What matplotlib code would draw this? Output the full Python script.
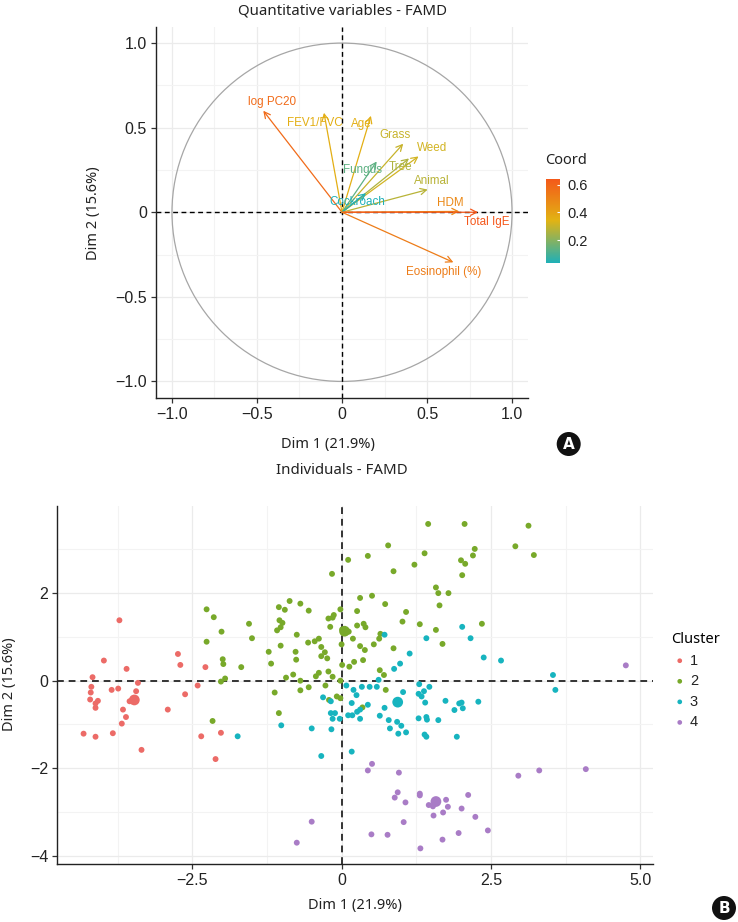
import numpy as np
import matplotlib
matplotlib.use("Agg")
import matplotlib.pyplot as plt
from matplotlib.colors import LinearSegmentedColormap, Normalize
from matplotlib.patches import Circle, Ellipse
from matplotlib.ticker import MultipleLocator

# ---------------- data: panel A (variables) ----------------
var_names = ["log PC20", "FEV1/FVC", "Age", "Grass", "Weed", "Tree", "Fungus",
             "Animal", "Cockroach", "HDM", "Total IgE", "Eosinophil (%)"]
var_dim1 = [-0.463, -0.106, 0.170, 0.360, 0.450, 0.394, 0.204, 0.504, 0.141, 0.690, 0.800, 0.655]
var_dim2 = [0.600, 0.588, 0.570, 0.405, 0.330, 0.318, 0.300, 0.134, 0.112, 0.005, 0.000, -0.296]
# label offsets from arrow tip (layout only)
lab_dx = [0.05, -0.054, -0.055, -0.05, 0.08, -0.049, -0.084, 0.026, -0.05, -0.05, 0.05, -0.055]
lab_dy = [0.05, -0.058, -0.05, 0.05, 0.047, -0.052, -0.05, 0.049, -0.052, 0.05, -0.055, -0.057]

# ---------------- data: panel B (individuals) ----------------
c1_x = [-3.72, -3.98, -3.60, -4.17, -4.19, -4.20, -4.21, -4.08, -4.12, -4.12, -3.85, -3.74,
        -3.41, -3.44, -3.55, -3.50, -3.66, -3.61, -3.68, -4.32, -4.12, -3.83, -3.35, -2.74,
        -2.70, -2.62, -2.91, -2.41, -2.28, -2.35, -2.02, -2.11]
c1_y = [1.38, 0.46, 0.27, 0.08, -0.14, -0.27, -0.43, -0.46, -0.52, -0.62, -0.21, -0.18,
        -0.05, -0.24, -0.47, -0.43, -0.66, -0.83, -0.98, -1.21, -1.28, -1.20, -1.58, 0.61,
        0.36, -0.31, -0.66, -0.11, 0.31, -1.27, -1.19, -1.79]

c2_x = [-2.26, -2.14, -2.01, -2.26, -1.99, -1.98, -1.95, -2.02, -2.16,
        1.45, 2.06, 0.78, 0.44, 0.11, -0.16, 0.87, 1.39, 1.22, 2.23, 2.20, 2.00, 2.07, 2.02,
        1.58, 1.62, 1.79, 1.64, 1.08, 0.73, 0.51, 0.31, 0.26, -0.02, 1.02, 1.31, 1.58, 2.35,
        1.69, 0.87, 0.65, 0.63, 0.54, 0.39, 0.31, 0.36, 0.21, 0.13, 0.01, 0.19, 0.26, 0.37,
        0.40, 0.01, 0.12, 0.00, 0.64, 0.71, 0.74, 0.35, -0.15, -0.02, -0.08, -0.02, -0.21,
        -0.27, -0.22, -0.38, -0.43, -0.55, -0.69, -0.69, -0.81, -0.93, -1.12, -1.05, -1.68,
        -1.50, -1.55, -1.18, -1.22, -1.02, -1.08, -1.02, -0.99, -1.04, -1.05, -0.95, -0.87,
        -0.69, -0.55, -0.75, -0.77, -0.76, -0.56, -0.45, -0.38, -0.34, -0.28, -0.34, -0.24,
        -0.19, -0.22, -0.15, -0.13, 3.13, 2.91, 3.22]
c2_y = [1.63, 1.45, 1.12, 0.89, 0.49, 0.38, 0.05, -0.02, -0.92,
        3.58, 3.58, 3.09, 2.85, 2.76, 2.44, 2.50, 2.91, 2.65, 3.01, 2.86, 2.75, 2.67, 2.41,
        2.13, 2.00, 2.00, 1.72, 1.57, 1.75, 1.94, 1.89, 1.59, 1.63, 1.35, 1.29, 1.16, 1.30,
        0.84, 0.74, 1.07, 0.96, 0.83, 0.70, 0.79, 0.47, 0.43, 0.32, 0.36, 0.96, 1.26, 1.30,
        1.22, 1.17, 1.12, 0.83, 0.24, 0.13, -0.21, -0.61, 0.09, 0.00, -0.36, -0.40, -0.44,
        -0.11, 0.21, 0.18, 0.10, -0.15, 0.00, -0.22, 0.14, 0.07, -0.27, -0.74, 0.31,
        0.97, 1.30, 0.39, 0.66, 0.80, 1.15, 1.22, 1.32, 1.38, 1.68, 1.62, 1.82,
        1.76, 1.60, 1.05, 0.66, 0.48, 0.87, 0.90, 0.96, 0.77, 0.65, 0.56, 0.51,
        1.23, 1.42, 1.44, 1.50, 3.54, 3.07, 2.87]

c3_x = [2.02, 2.16, 1.42, 0.72, 1.14, 0.98, 0.88, 2.38, 2.67, 0.62, 0.59, 0.08, 0.20, 0.34,
        0.47, 0.25, 0.44, 0.17, 0.31, 0.26, 0.18, 0.11, 0.31, -0.03, -0.11, -0.18, -0.15,
        -0.17, -0.31, -0.18, -0.50, -1.01, -1.74, -0.34, 0.17, 1.03, 1.30, 1.29, 1.34, 1.38,
        1.47, 1.40, 1.74, 1.97, 2.01, 1.89, 2.03, 2.29, 0.72, 0.64, 0.79, 0.93, 1.00, 0.81,
        0.95, 1.08, 1.29, 1.42, 1.43, 1.62, 1.39, 1.42, 1.93, 3.54, 3.58]
c3_y = [1.23, 0.97, 0.97, 1.05, 0.62, 0.39, 0.27, 0.53, 0.46, 0.02, -0.14, -0.11, -0.21, -0.14,
        -0.14, -0.33, -0.55, -0.51, -0.66, -0.71, -0.79, -0.79, -0.87, -0.87, -0.74, -0.74, -0.87,
        -1.11, -0.38, -0.47, -1.09, -1.02, -1.27, -1.72, -1.62, -0.26, -0.08, -0.30, -0.36, -0.24,
        -0.14, -0.50, -0.46, -0.52, -0.50, -0.67, -0.63, -0.48, -0.62, -0.80, -0.90, -0.94, -1.03, -1.09,
        -1.21, -1.18, -0.86, -0.83, -0.89, -0.90, -1.23, -1.28, -1.28, 0.13, -0.21]

c4_x = [0.51, 0.44, 0.96, 2.96, 3.31, 4.09, 0.94, 0.89, 1.07, 1.31, 1.31, 1.46, 1.53, 1.75,
        1.78, 2.12, 2.01, 1.70, 1.54, 2.24, 1.04, 0.50, 0.77, 1.69, 1.96, 2.45, 1.32, -0.50,
        -0.75, 4.76]
c4_y = [-1.90, -2.05, -2.10, -2.17, -2.05, -2.02, -2.55, -2.67, -2.78, -2.58, -2.62, -2.84,
        -2.87, -2.72, -2.88, -2.61, -2.92, -3.01, -3.08, -3.11, -3.23, -3.51, -3.52, -3.63,
        -3.48, -3.42, -3.83, -3.22, -3.70, 0.35]

cluster_labels = ["1", "2", "3", "4"]
centroid_x = [-3.47, 0.05, 0.94, 1.58]
centroid_y = [-0.44, 1.13, -0.49, -2.76]
cluster_colors = ["#EC6B67", "#78A92A", "#17B4BF", "#A97CC6"]

# ---------------- figure ----------------
W, H = 738, 922
fig = plt.figure(figsize=(W / 100, H / 100), dpi=100)
fig.patch.set_facecolor("white")

TICKFONT = "Liberation Sans"
LABFONT = "Noto Sans"
GRID_MAJ = "#EBEBEB"
GRID_MIN = "#F3F3F3"


def fx(px):
    return px / W


def fy(py):
    return 1 - py / H


def style_axes(ax):
    for s in ["top", "right"]:
        ax.spines[s].set_visible(False)
    for s in ["left", "bottom"]:
        ax.spines[s].set_color("#222222")
        ax.spines[s].set_linewidth(1.0)
    ax.tick_params(axis="both", which="major", direction="out", length=3.5, width=0.9,
                   color="#333333", labelcolor="#222222", labelsize=11.5, pad=3)
    ax.tick_params(axis="both", which="minor", length=0)
    for lab in ax.get_xticklabels() + ax.get_yticklabels():
        lab.set_fontfamily(TICKFONT)
    ax.grid(True, which="major", color=GRID_MAJ, lw=0.9, zorder=0)
    ax.grid(True, which="minor", color=GRID_MIN, lw=0.8, zorder=0)
    ax.set_axisbelow(True)


# ---------------- Panel A ----------------
axA = fig.add_axes([fx(156), fy(398), fx(528) - fx(156), fy(27) - fy(398)])
axA.set_xlim(-1.094, 1.094)
axA.set_ylim(-1.098, 1.095)
axA.xaxis.set_major_locator(MultipleLocator(0.5))
axA.yaxis.set_major_locator(MultipleLocator(0.5))
axA.xaxis.set_minor_locator(MultipleLocator(0.25))
axA.yaxis.set_minor_locator(MultipleLocator(0.25))
fmtA = lambda v, p: "0" if abs(v) < 1e-9 else ("%.1f" % v).replace("-", "\u2212")
axA.xaxis.set_major_formatter(plt.FuncFormatter(fmtA))
axA.yaxis.set_major_formatter(plt.FuncFormatter(fmtA))
style_axes(axA)

axA.add_patch(Circle((0, 0), 1, fill=False, ec="#A6A6A6", lw=0.9, zorder=1))
axA.axhline(0, color="black", lw=1.0, ls=(0, (3.5, 2.5)), zorder=2)
axA.axvline(0, color="black", lw=1.0, ls=(0, (3.5, 2.5)), zorder=2)

cmap = LinearSegmentedColormap.from_list("coord", ["#1FB0B8", "#E2B414", "#F5571A"])
coord = np.array(var_dim1) ** 2 + np.array(var_dim2) ** 2
norm = Normalize(vmin=coord.min(), vmax=coord.max())

for name, x, y, dx, dy, c in zip(var_names, var_dim1, var_dim2, lab_dx, lab_dy, coord):
    col = cmap(norm(c))
    axA.annotate("", xy=(x, y), xytext=(0, 0),
                 arrowprops=dict(arrowstyle="->,head_length=0.55,head_width=0.28",
                                 color=col, lw=0.9, shrinkA=0, shrinkB=0,
                                 mutation_scale=8), zorder=3)
    axA.text(x + dx, y + dy, name, color=col, fontsize=8.4, family=TICKFONT,
             ha="center", va="center", zorder=4)

# colorbar
cax = fig.add_axes([fx(546), fy(263.3), fx(560) - fx(546), fy(179) - fy(263.3)])
grad = np.linspace(norm.vmin, norm.vmax, 256).reshape(-1, 1)
cax.imshow(grad, aspect="auto", cmap=cmap, norm=norm, origin="lower",
           extent=[0, 1, norm.vmin, norm.vmax])
cax.set_xticks([])
cax.yaxis.tick_right()
cax.set_yticks([0.2, 0.4, 0.6])
cax.set_yticklabels(["0.2", "0.4", "0.6"])
cax.tick_params(axis="y", direction="in", length=2.5, width=0.8, color="white",
                labelsize=10.5, labelcolor="#222222", pad=5)
for lab in cax.get_yticklabels():
    lab.set_fontfamily(TICKFONT)
for s in cax.spines.values():
    s.set_visible(False)
fig.text(fx(545), fy(160), "Coord", fontsize=10.5, family=LABFONT, color="#222222",
         ha="left", va="center")

fig.text(fx(342), fy(11), "Quantitative variables - FAMD", fontsize=10.8, family=LABFONT,
         color="#222222", ha="center", va="center")
fig.text(fx(328), fy(444), "Dim 1 (21.9%)", fontsize=10.5, family=LABFONT,
         color="#222222", ha="center", va="center")
fig.text(fx(93), fy(213), "Dim 2 (15.6%)", fontsize=10.5, family=LABFONT,
         color="#222222", ha="center", va="center", rotation=90)

# ---------------- Panel B ----------------
axB = fig.add_axes([fx(57.3), fy(863.7), fx(653.3) - fx(57.3), fy(506) - fy(863.7)])
axB.set_xlim(-4.76, 5.22)
axB.set_ylim(-4.18, 3.99)
axB.xaxis.set_major_locator(MultipleLocator(2.5))
axB.xaxis.set_minor_locator(MultipleLocator(1.25))
axB.yaxis.set_major_locator(MultipleLocator(2))
axB.yaxis.set_minor_locator(MultipleLocator(1))
fmtBx = lambda v, p: "0" if abs(v) < 1e-9 else ("%.1f" % v).replace("-", "\u2212")
fmtBy = lambda v, p: ("%d" % round(v)).replace("-", "\u2212")
axB.xaxis.set_major_formatter(plt.FuncFormatter(fmtBx))
axB.yaxis.set_major_formatter(plt.FuncFormatter(fmtBy))
style_axes(axB)

axB.axhline(0, color="#333333", lw=1.4, ls=(0, (3.5, 2.5)), zorder=2)
axB.axvline(0, color="#333333", lw=1.4, ls=(0, (3.5, 2.5)), zorder=2)

clusters_x = [c1_x, c2_x, c3_x, c4_x]
clusters_y = [c1_y, c2_y, c3_y, c4_y]
for xs, ys, col, lab in zip(clusters_x, clusters_y, cluster_colors, cluster_labels):
    axB.scatter(xs, ys, s=18, color=col, edgecolors="none", zorder=3, label=lab)
for cx, cy, col in zip(centroid_x, centroid_y, cluster_colors):
    axB.scatter([cx], [cy], s=60, color=col, edgecolors="none", zorder=4)

leg = axB.legend(title="Cluster", loc="upper left", bbox_to_anchor=(fx(671), fy(632)),
                 bbox_transform=fig.transFigure, frameon=False, fontsize=10.5,
                 title_fontsize=10.5, handletextpad=0.1, labelspacing=0.45,
                 borderpad=0, borderaxespad=0, handlelength=1.2, markerscale=0.8)
leg.get_title().set_fontfamily(LABFONT)
leg._legend_box.align = "left"
for t in leg.get_texts():
    t.set_fontfamily(TICKFONT)
    t.set_color("#222222")

fig.text(fx(342), fy(470), "Individuals - FAMD", fontsize=10.8, family=LABFONT,
         color="#222222", ha="center", va="center")
fig.text(fx(354.5), fy(905), "Dim 1 (21.9%)", fontsize=10.5, family=LABFONT,
         color="#222222", ha="center", va="center")
fig.text(fx(10), fy(684), "Dim 2 (15.6%)", fontsize=10.5, family=LABFONT,
         color="#222222", ha="center", va="center", rotation=90)

# panel badges
for (bx, by, letter) in [(568.7, 444, "A"), (724, 908, "B")]:
    fig.patches.append(Ellipse((fx(bx), fy(by)), 24 / W, 24 / H, transform=fig.transFigure,
                               facecolor="#111111", edgecolor="none"))
    fig.text(fx(bx), fy(by), letter, color="white", fontsize=11, fontweight="bold",
             family="DejaVu Sans", ha="center", va="center")

fig.savefig("out.png", dpi=100, facecolor="white")
